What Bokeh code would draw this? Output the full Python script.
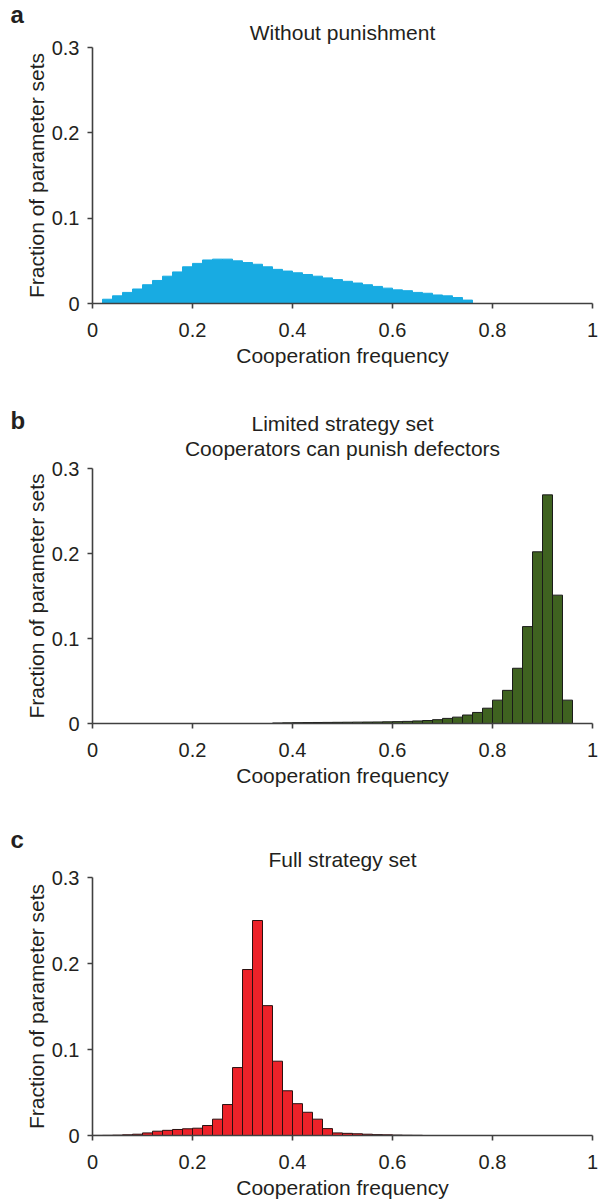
from bokeh.plotting import figure
from bokeh.layouts import column
from bokeh.models import Title, FixedTicker, Range1d
from bokeh.embed import file_html
from bokeh.resources import INLINE

# ---------------- data ----------------
bin_left = [round(0.02 * i, 2) for i in range(50)]
bin_right = [round(0.02 * (i + 1), 2) for i in range(50)]

# a: Without punishment
freq_without_punishment = [
    0.0, 0.005, 0.009, 0.013, 0.017, 0.022, 0.027, 0.032, 0.037, 0.043,
    0.047, 0.051, 0.052, 0.052, 0.050, 0.048, 0.046, 0.043, 0.040, 0.038,
    0.036, 0.034, 0.032, 0.030, 0.028, 0.026, 0.024, 0.022, 0.020, 0.018,
    0.016, 0.015, 0.013, 0.012, 0.010, 0.009, 0.007, 0.004, 0.0, 0.0,
    0.0, 0.0, 0.0, 0.0, 0.0, 0.0, 0.0, 0.0, 0.0, 0.0,
]

# b: Limited strategy set, cooperators can punish defectors
freq_limited = [
    0.0, 0.0, 0.0, 0.0, 0.0, 0.0, 0.0, 0.0, 0.0, 0.0,
    0.0, 0.0, 0.0, 0.0, 0.0, 0.0, 0.0, 0.0, 0.0006, 0.0008,
    0.001, 0.0011, 0.0012, 0.0013, 0.0014, 0.0015, 0.0016, 0.0017, 0.0018, 0.002,
    0.0022, 0.0025, 0.003, 0.0035, 0.0045, 0.006, 0.0075, 0.010, 0.013, 0.018,
    0.0275, 0.039, 0.065, 0.114, 0.202, 0.269, 0.151, 0.0275, 0.0, 0.0,
]

# c: Full strategy set
freq_full = [
    0.0001, 0.0002, 0.0004, 0.0008, 0.0015, 0.003, 0.005, 0.006, 0.007, 0.0078,
    0.0085, 0.0116, 0.019, 0.036, 0.079, 0.193, 0.250, 0.151, 0.0864, 0.052,
    0.037, 0.027, 0.019, 0.008, 0.003, 0.0025, 0.002, 0.0015, 0.001, 0.0008,
    0.0005, 0.0003, 0.0002, 0.0, 0.0, 0.0, 0.0, 0.0, 0.0, 0.0,
    0.0, 0.0, 0.0, 0.0, 0.0, 0.0, 0.0, 0.0, 0.0, 0.0,
]

x_ticks = [0, 0.2, 0.4, 0.6, 0.8, 1]
x_tick_labels = ["0", "0.2", "0.4", "0.6", "0.8", "1"]
y_ticks = [0, 0.1, 0.2, 0.3]
y_tick_labels = ["0", "0.1", "0.2", "0.3"]

x_label = "Cooperation frequency"
y_label = "Fraction of parameter sets"

# ---------------- styling ----------------
FONT = "Liberation Sans"
TXT = "#231f20"
AXIS = "#404040"


def make_panel(values, fill, line, letter, titles, letter_standoff,
               border_top, frame_h, border_bottom):
    p = figure(frame_width=500, frame_height=frame_h,
               min_border_left=92, min_border_right=6,
               min_border_top=border_top, min_border_bottom=border_bottom,
               x_range=Range1d(0, 1), y_range=Range1d(0, 0.3),
               output_backend="svg", toolbar_location=None, title=None)

    idx = [i for i, v in enumerate(values) if v > 0]
    p.quad(left=[bin_left[i] for i in idx], right=[bin_right[i] for i in idx],
           bottom=0, top=[values[i] for i in idx],
           fill_color=fill, line_color=line, line_width=1)

    p.xgrid.visible = False
    p.ygrid.visible = False
    p.outline_line_color = None
    p.background_fill_color = "white"
    p.border_fill_color = "white"

    p.xaxis.ticker = FixedTicker(ticks=x_ticks)
    p.xaxis.major_label_overrides = dict(zip(x_ticks, x_tick_labels))
    p.yaxis.ticker = FixedTicker(ticks=y_ticks)
    p.yaxis.major_label_overrides = dict(zip(y_ticks, y_tick_labels))

    for ax in (p.xaxis, p.yaxis):
        ax.axis_line_color = AXIS
        ax.axis_line_width = 1.6
        ax.major_tick_line_color = AXIS
        ax.major_tick_line_width = 1.6
        ax.major_tick_out = 5
        ax.major_tick_in = 0
        ax.minor_tick_line_color = None
        ax.major_label_text_font = FONT
        ax.major_label_text_font_size = "20px"
        ax.major_label_text_color = TXT
        ax.axis_label_text_font = FONT
        ax.axis_label_text_font_size = "21px"
        ax.axis_label_text_font_style = "normal"
        ax.axis_label_text_color = TXT

    p.xaxis.axis_label = x_label
    p.yaxis.axis_label = y_label
    p.xaxis.major_label_standoff = 14
    p.xaxis.axis_label_standoff = 4
    p.yaxis.major_label_standoff = 8
    p.yaxis.axis_label_standoff = 1

    # titles: first one added sits nearest the plot frame
    for text, standoff in titles:
        p.add_layout(Title(text=text, align="center", standoff=standoff,
                           text_font=FONT, text_font_size="21px",
                           text_font_style="normal", text_color=TXT), "above")
    p.add_layout(Title(text=letter, align="left", offset=-82, standoff=letter_standoff,
                       text_font=FONT, text_font_size="24px",
                       text_font_style="bold", text_color=TXT), "above")
    return p


pa = make_panel(freq_without_punishment, "#18abe2", "#18abe2", "a",
                [("Without punishment", 8)], -27.6,
                47, 256, 65)
pb = make_panel(freq_limited, "#3f6220", "#1a1a1a", "b",
                [("Cooperators can punish defectors", 18), ("Limited strategy set", -19)],
                -28.7, 99, 255, 65)
pc = make_panel(freq_full, "#ec2229", "#2a1010", "c",
                [("Full strategy set", 14)], -29.6,
                88, 258, 65)

layout = column(pa, pb, pc, spacing=0)

with open("out.html", "w") as f:
    f.write(file_html(layout, INLINE))
